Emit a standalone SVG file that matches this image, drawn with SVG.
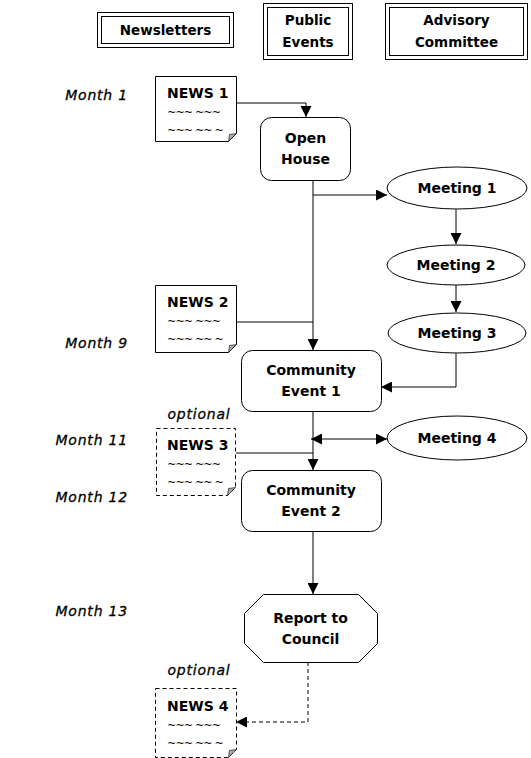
<svg xmlns="http://www.w3.org/2000/svg" width="531" height="758" viewBox="0 0 531 758">
<style>
.b{font-family:"DejaVu Sans",Verdana,sans-serif;font-weight:bold;font-size:14px;fill:#000}
.h{font-family:"DejaVu Sans",Verdana,sans-serif;font-weight:bold;font-size:13.5px;fill:#000}
.n{font-family:"DejaVu Sans",Verdana,sans-serif;font-size:11px;letter-spacing:-0.8px;fill:#000}
.m{font-family:"DejaVu Sans",Verdana,sans-serif;font-style:italic;font-size:14px;letter-spacing:0.8px;fill:#000;stroke:#000;stroke-width:0.3}
.s{fill:#fff;stroke:#000;stroke-width:1}
.d{fill:#fff;stroke:#000;stroke-width:1;stroke-dasharray:4,3}
.l{fill:none;stroke:#000;stroke-width:1}
.ld{fill:none;stroke:#000;stroke-width:1;stroke-dasharray:4,3}
.f{fill:#aaa;stroke:#000;stroke-width:0.6}
</style>
<defs>
<marker id="ah" markerWidth="11" markerHeight="11" refX="11" refY="5.5" orient="auto" markerUnits="userSpaceOnUse">
<path d="M0,0 L11,5.5 L0,11 Z" fill="#000"/>
</marker>
<marker id="as" markerWidth="11" markerHeight="11" refX="0" refY="5.5" orient="auto" markerUnits="userSpaceOnUse">
<path d="M11,0 L0,5.5 L11,11 Z" fill="#000"/>
</marker>
</defs>
<rect width="531" height="758" fill="#fff"/>

<g id="hdr-newsletters">
<rect x="97.5" y="12.5" width="136" height="35" class="s" stroke-width="2"/>
<rect x="101.5" y="16.5" width="128" height="27" class="l"/>
<text x="165.5" y="35" text-anchor="middle" class="h">Newsletters</text>
</g>
<g id="hdr-public">
<rect x="263.5" y="3.5" width="89" height="56" class="s" stroke-width="2"/>
<rect x="267.5" y="7.5" width="81" height="48" class="l"/>
<text x="308" y="25" text-anchor="middle" class="h">Public</text>
<text x="308" y="47" text-anchor="middle" class="h">Events</text>
</g>
<g id="hdr-advisory">
<rect x="385.5" y="3.5" width="142" height="56" class="s" stroke-width="2"/>
<rect x="389.5" y="7.5" width="134" height="48" class="l"/>
<text x="456.5" y="25" text-anchor="middle" class="h">Advisory</text>
<text x="456.5" y="47" text-anchor="middle" class="h">Committee</text>
</g>

<g id="months">
<text x="128" y="100" text-anchor="end" class="m">Month 1</text>
<text x="128" y="348" text-anchor="end" class="m">Month 9</text>
<text x="128" y="445" text-anchor="end" class="m">Month 11</text>
<text x="128" y="502" text-anchor="end" class="m">Month 12</text>
<text x="128" y="616" text-anchor="end" class="m">Month 13</text>
<text x="199" y="419" text-anchor="middle" class="m">optional</text>
<text x="199" y="675" text-anchor="middle" class="m">optional</text>
</g>

<g id="connectors">
<polyline points="236,103 306,103 306,117" class="l" marker-end="url(#ah)"/>
<polyline points="313,181 313,350" class="l" marker-end="url(#ah)"/>
<polyline points="313,195 387,195" class="l" marker-end="url(#ah)"/>
<polyline points="456,208 456,244" class="l" marker-end="url(#ah)"/>
<polyline points="456,285 456,312" class="l" marker-end="url(#ah)"/>
<polyline points="236,322 313,322" class="l"/>
<polyline points="456,353 456,387 381,387" class="l" marker-end="url(#ah)"/>
<polyline points="313,411 313,470" class="l" marker-end="url(#ah)"/>
<polyline points="236,453 313,453" class="l"/>
<line x1="311" y1="439" x2="387" y2="439" class="l" marker-start="url(#as)" marker-end="url(#ah)"/>
<polyline points="313,532 313,594" class="l" marker-end="url(#ah)"/>
<polyline points="308,662 308,722 236,722" class="ld" marker-end="url(#ah)"/>
</g>

<g id="news1">
<path d="M155.5,76.5 H236.5 V133.5 L228.5,141.5 H155.5 Z" class="s"/>
<path d="M236.5,133.5 L229.5,134.5 L228.5,141.5 Z" class="f"/>
<text x="167" y="98" class="b">NEWS 1</text>
<text x="167" y="116" class="n">~~~ ~~~</text>
<text x="167" y="134" class="n">~~~ ~~ ~</text>
</g>
<g id="news2">
<path d="M155.5,285.5 H236.5 V344.5 L228.5,352.5 H155.5 Z" class="s"/>
<path d="M236.5,344.5 L229.5,345.5 L228.5,352.5 Z" class="f"/>
<text x="167" y="307" class="b">NEWS 2</text>
<text x="167" y="325" class="n">~~~ ~~~</text>
<text x="167" y="343" class="n">~~~ ~~ ~</text>
</g>
<g id="news3">
<path d="M156.5,428.5 H235.5 V487.5 L227.5,495.5 H156.5 Z" class="d"/>
<path d="M235.5,487.5 L228.5,488.5 L227.5,495.5 Z" class="f"/>
<text x="167" y="450" class="b">NEWS 3</text>
<text x="167" y="468" class="n">~~~ ~~~</text>
<text x="167" y="486" class="n">~~~ ~~ ~</text>
</g>
<g id="news4">
<path d="M155.5,688.5 H236.5 V749.5 L228.5,757.5 H155.5 Z" class="d"/>
<path d="M236.5,749.5 L229.5,750.5 L228.5,757.5 Z" class="f"/>
<text x="167" y="711" class="b">NEWS 4</text>
<text x="167" y="729" class="n">~~~ ~~~</text>
<text x="167" y="747" class="n">~~~ ~~ ~</text>
</g>

<g id="open-house">
<rect x="260.5" y="117.5" width="90" height="63" rx="11" class="s"/>
<text x="305.5" y="143" text-anchor="middle" class="b">Open</text>
<text x="305.5" y="164" text-anchor="middle" class="b">House</text>
</g>
<g id="meeting1">
<ellipse cx="457" cy="188" rx="70" ry="21" class="s"/>
<text x="457" y="193" text-anchor="middle" class="b">Meeting 1</text>
</g>
<g id="meeting2">
<ellipse cx="456" cy="265" rx="69" ry="20" class="s"/>
<text x="456" y="270" text-anchor="middle" class="b">Meeting 2</text>
</g>
<g id="meeting3">
<ellipse cx="457" cy="333" rx="69" ry="20" class="s"/>
<text x="457" y="338" text-anchor="middle" class="b">Meeting 3</text>
</g>
<g id="community1">
<rect x="241.5" y="350.5" width="140" height="61" rx="11" class="s"/>
<text x="311" y="375" text-anchor="middle" class="b">Community</text>
<text x="311" y="396" text-anchor="middle" class="b">Event 1</text>
</g>
<g id="meeting4">
<ellipse cx="457" cy="438" rx="70" ry="22" class="s"/>
<text x="457" y="443" text-anchor="middle" class="b">Meeting 4</text>
</g>
<g id="community2">
<rect x="241.5" y="470.5" width="140" height="61" rx="11" class="s"/>
<text x="311" y="495" text-anchor="middle" class="b">Community</text>
<text x="311" y="516" text-anchor="middle" class="b">Event 2</text>
</g>
<g id="report">
<path d="M263.5,594.5 H358.5 L377.5,613.5 V643.5 L358.5,662.5 H263.5 L244.5,643.5 V613.5 Z" class="s"/>
<text x="310.5" y="623" text-anchor="middle" class="b">Report to</text>
<text x="310.5" y="644" text-anchor="middle" class="b">Council</text>
</g>
</svg>
